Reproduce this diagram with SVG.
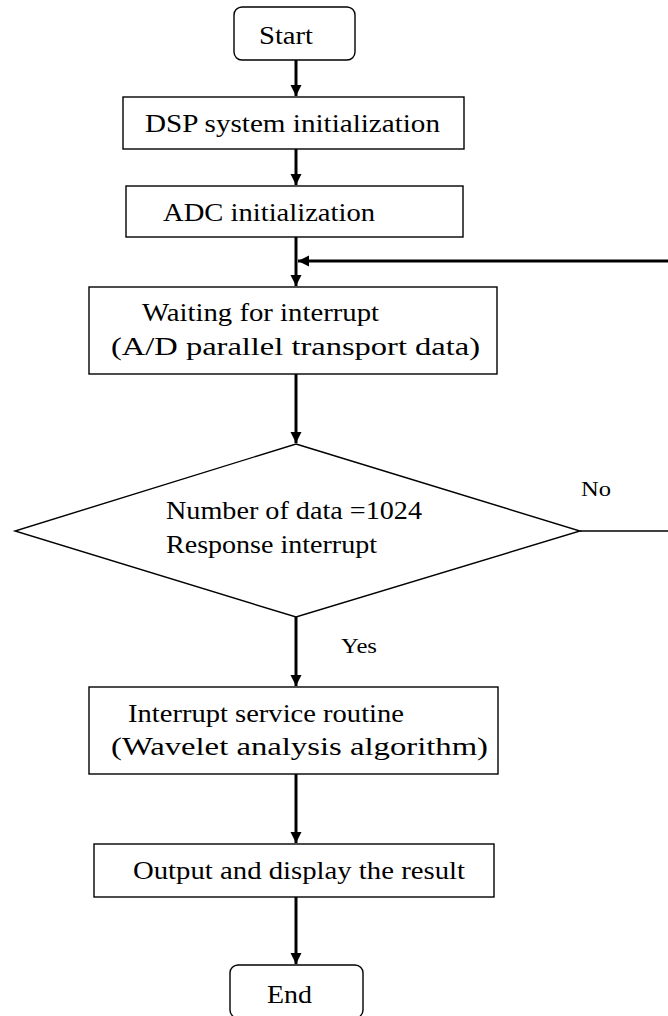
<svg xmlns="http://www.w3.org/2000/svg" width="668" height="1016" viewBox="0 0 668 1016">
<style>
.box{fill:#fff;stroke:#000;stroke-width:1.4}
.t{font-family:"Liberation Serif","DejaVu Serif","Times New Roman",serif;font-size:25px;fill:#000}
.lbl{font-family:"Liberation Serif","DejaVu Serif","Times New Roman",serif;font-size:22px;fill:#000}
.c{fill:none;stroke:#000;stroke-width:3}
.thin{fill:none;stroke:#000;stroke-width:1.4}
</style>
<defs>
<marker id="ah" viewBox="0 0 10 10" refX="10" refY="5" markerWidth="11" markerHeight="14" markerUnits="userSpaceOnUse" orient="auto">
<path d="M0,0 L10,5 L0,10 z" fill="#000"/>
</marker>
</defs>
<rect width="668" height="1016" fill="#fff"/>
<g id="connectors">
<line class="c" x1="296" y1="60" x2="296" y2="96" marker-end="url(#ah)"/>
<line class="c" x1="296" y1="149" x2="296" y2="185" marker-end="url(#ah)"/>
<line class="c" x1="296" y1="237" x2="296" y2="286" marker-end="url(#ah)"/>
<line class="c" x1="668" y1="261" x2="298" y2="261" marker-end="url(#ah)"/>
<line class="c" x1="296" y1="374" x2="296" y2="443" marker-end="url(#ah)"/>
<polyline class="thin" points="580,531 670,531"/>
<line class="c" x1="296" y1="617" x2="296" y2="686" marker-end="url(#ah)"/>
<line class="c" x1="296" y1="774" x2="296" y2="843" marker-end="url(#ah)"/>
<line class="c" x1="296" y1="897" x2="296" y2="964" marker-end="url(#ah)"/>
<text class="lbl" x="581" y="496" textLength="30" lengthAdjust="spacingAndGlyphs">No</text>
<text class="lbl" x="341" y="653" textLength="36" lengthAdjust="spacingAndGlyphs">Yes</text>
</g>
<g id="start">
<rect class="box" x="234" y="7" width="121" height="53" rx="8"/>
<text class="t" x="259" y="44" textLength="54" lengthAdjust="spacingAndGlyphs">Start</text>
</g>
<g id="dsp-init">
<rect class="box" x="123" y="97" width="341" height="52"/>
<text class="t" x="145" y="132" textLength="295" lengthAdjust="spacingAndGlyphs">DSP system initialization</text>
</g>
<g id="adc-init">
<rect class="box" x="126" y="186" width="337" height="51"/>
<text class="t" x="163" y="221" textLength="212" lengthAdjust="spacingAndGlyphs">ADC initialization</text>
</g>
<g id="waiting">
<rect class="box" x="89" y="287" width="408" height="87"/>
<text class="t" x="142" y="321" textLength="237" lengthAdjust="spacingAndGlyphs">Waiting for interrupt</text>
<text class="t" x="111" y="355" textLength="369" lengthAdjust="spacingAndGlyphs">(A/D parallel transport data)</text>
</g>
<g id="decision">
<polygon class="box" points="296,444 580,531 296,617 15,531"/>
<text class="t" x="166" y="519" textLength="256" lengthAdjust="spacingAndGlyphs">Number of data =1024</text>
<text class="t" x="166" y="553" textLength="211" lengthAdjust="spacingAndGlyphs">Response interrupt</text>
</g>
<g id="isr">
<rect class="box" x="89" y="687" width="409" height="87"/>
<text class="t" x="128" y="722" textLength="276" lengthAdjust="spacingAndGlyphs">Interrupt service routine</text>
<text class="t" x="111" y="755" textLength="377" lengthAdjust="spacingAndGlyphs">(Wavelet analysis algorithm)</text>
</g>
<g id="output">
<rect class="box" x="94" y="844" width="400" height="53"/>
<text class="t" x="133" y="879" textLength="332" lengthAdjust="spacingAndGlyphs">Output and display the result</text>
</g>
<g id="end">
<rect class="box" x="230" y="965" width="133" height="53" rx="8"/>
<text class="t" x="267" y="1003" textLength="45" lengthAdjust="spacingAndGlyphs">End</text>
</g>
</svg>
